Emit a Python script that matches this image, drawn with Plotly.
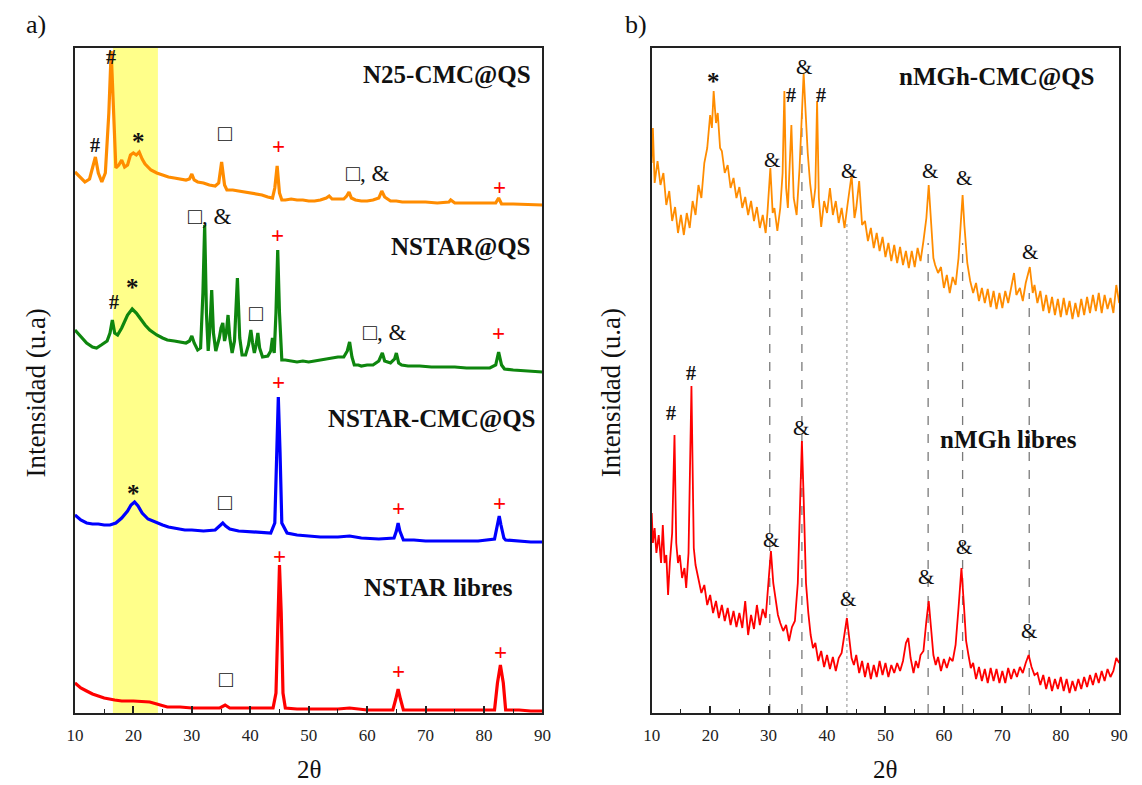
import plotly.graph_objects as go

# ---------------- DATA (2theta, intensity in a.u. incl. stacking offset) ----------------
# Panel a)
n25_cmc_qs = [(10.0,541),(11.0,535),(11.7,531),(12.5,534),(13.0,545),(13.5,556),(14.0,540),(14.6,531),(15.2,540),(15.8,600),(16.2,662),(16.6,600),(17.0,545),(17.5,548),(18.0,553),(18.5,546),(19.0,548),(19.5,558),(20.0,560),(20.5,558),(21.0,561),(21.5,554),(22.0,549),(23.0,543),(24.0,540),(25.0,538),(26.0,536),(27.0,535),(28.0,534),(29.0,533),(29.6,534),(30.0,539),(30.4,533),(31.0,531),(32.0,530),(33.0,528),(34.0,527),(34.6,530),(35.1,551),(35.6,528),(36.0,523),(37.0,523),(38.0,522),(39.0,521),(40.0,520),(41.0,519),(42.0,518),(43.0,516),(43.8,515),(44.2,525),(44.6,547),(45.0,520),(45.4,513),(46.0,513),(47.0,514),(48.0,513),(49.0,513),(50.0,512),(51.0,512),(52.0,513),(53.0,515),(53.5,517),(54.0,514),(55.0,514),(56.0,514),(56.5,517),(56.9,521),(57.3,515),(58.0,513),(59.0,512),(60.0,512),(61.0,513),(62.0,515),(62.5,522),(63.0,516),(63.5,514),(64.0,512),(65.0,512),(66.0,511),(68.0,511),(70.0,511),(72.0,510),(74.0,511),(74.3,513),(75.0,510),(78.0,510),(80.0,510),(82.0,510),(82.5,515),(83.0,509),(85.0,509),(88.0,508),(90.0,508)]

nstar_qs = [(10.0,383),(11.0,376),(12.0,370),(13.0,366),(13.7,365),(14.5,368),(15.5,372),(16.0,380),(16.4,393),(16.8,380),(17.3,378),(18.0,385),(18.5,392),(19.0,398),(19.8,404),(20.5,400),(21.0,396),(22.0,388),(22.8,383),(24.0,378),(25.0,375),(25.8,373),(27.0,372),(28.0,371),(29.0,370),(29.6,372),(30.0,377),(30.4,370),(31.0,363),(31.5,365),(31.9,420),(32.2,488),(32.5,400),(32.8,362),(33.1,385),(33.4,423),(33.7,380),(34.1,362),(34.7,375),(35.0,385),(35.3,390),(35.6,372),(35.9,380),(36.2,398),(36.5,375),(36.9,360),(37.3,372),(37.8,435),(38.2,375),(38.6,358),(39.2,358),(39.7,368),(40.1,383),(40.4,370),(40.7,360),(41.0,368),(41.3,380),(41.6,365),(42.1,356),(43.0,357),(43.5,362),(43.8,375),(44.1,360),(44.4,400),(44.7,463),(45.0,400),(45.4,353),(46.0,353),(47.0,352),(48.0,351),(49.0,352),(50.0,351),(51.0,352),(52.0,353),(53.0,354),(54.0,355),(55.0,356),(56.0,356),(56.6,362),(57.0,371),(57.4,356),(57.8,348),(58.5,348),(59.0,347),(60.0,348),(61.0,348),(62.0,352),(62.6,360),(63.0,352),(64.0,350),(64.7,354),(65.0,360),(65.4,350),(65.9,348),(67.0,347),(69.0,347),(71.0,346),(73.0,346),(75.0,346),(77.0,345),(79.0,345),(81.0,345),(82.0,348),(82.5,361),(83.0,348),(83.5,344),(85.0,343),(87.0,342),(90.0,341)]

nstar_cmc_qs = [(10.0,198),(11.0,193),(12.0,190),(13.0,189),(14.0,189),(15.0,188),(16.0,188),(17.0,190),(18.0,195),(19.0,202),(19.6,208),(20.2,211),(20.8,207),(21.5,200),(22.5,194),(24.0,190),(25.0,188),(26.0,186),(27.0,185),(28.8,183),(30.0,183),(32.0,182),(34.0,183),(34.7,187),(35.3,190),(35.8,187),(36.5,184),(38.0,182),(40.0,181),(42.0,180),(43.5,180),(44.2,190),(44.5,260),(44.8,316),(45.1,260),(45.4,190),(46.3,180),(48.0,178),(50.0,177),(52.0,176),(55.0,176),(57.0,177),(59.0,175),(62.0,174),(64.6,175),(65.0,182),(65.3,190),(65.6,182),(66.2,173),(68.0,173),(70.0,172),(73.0,172),(76.0,172),(79.0,172),(81.8,174),(82.3,188),(82.6,197),(82.9,188),(83.4,175),(83.7,173),(86.0,172),(88.0,171),(90.0,171)]

nstar_libres = [(10.0,30),(11.0,25),(12.0,22),(13.0,19),(14.0,17),(15.0,15),(16.8,13),(18.0,12),(20.0,12),(22.8,11),(24.0,9),(25.8,6),(28.0,6),(30.0,5),(32.0,5),(34.8,5),(35.7,8),(36.5,5),(38.0,5),(40.0,5),(42.0,5),(43.9,5),(44.4,20),(44.7,100),(45.0,148),(45.3,100),(45.6,20),(46.0,5),(48.0,4),(50.0,4),(52.0,4),(55.0,4),(57.0,5),(60.0,3),(62.0,3),(64.4,3),(64.9,14),(65.3,24),(65.7,14),(66.2,3),(68.0,3),(70.0,3),(72.0,3),(75.0,3),(78.0,3),(80.0,3),(81.8,3),(82.3,30),(82.8,48),(83.3,30),(83.7,3),(86.0,3),(88.0,2),(90.0,2)]

# Panel b)
nmgh_cmc_qs = [(10.0,550),(10.2,585),(10.5,530),(11.0,552),(11.5,528),(12.0,540),(12.5,508),(13.0,522),(13.5,492),(14.0,506),(14.5,480),(15.0,498),(15.5,478),(16.0,500),(16.5,485),(17.0,512),(17.5,498),(18.0,528),(18.5,515),(19.0,550),(19.5,565),(20.0,598),(20.3,585),(20.6,622),(21.0,590),(21.3,600),(21.7,565),(22.0,562),(22.5,540),(23.0,548),(23.5,525),(24.0,535),(24.5,515),(25.0,526),(25.5,505),(26.0,516),(26.5,498),(27.0,512),(27.5,492),(28.0,506),(28.5,485),(29.0,498),(29.5,480),(29.8,500),(30.3,545),(30.7,500),(31.0,505),(31.5,482),(32.0,505),(32.4,540),(32.7,622),(33.0,525),(33.3,505),(33.9,588),(34.3,515),(34.8,498),(35.3,545),(35.7,605),(36.0,640),(36.3,605),(36.7,560),(37.1,530),(37.6,505),(38.0,525),(38.3,612),(38.6,515),(39.0,486),(39.5,512),(40.0,500),(40.5,525),(41.0,498),(41.5,512),(42.0,490),(42.5,505),(43.0,485),(43.5,508),(44.2,538),(44.7,495),(45.0,505),(45.5,532),(46.0,488),(46.5,492),(47.0,472),(47.5,485),(48.0,465),(48.5,480),(49.0,462),(49.5,476),(50.0,456),(50.5,470),(51.0,452),(51.5,468),(52.0,450),(52.5,466),(53.0,448),(53.5,462),(54.0,445),(54.5,462),(55.0,446),(55.5,465),(56.0,452),(56.5,472),(57.0,495),(57.4,528),(57.8,490),(58.2,455),(58.5,448),(59.0,440),(59.5,446),(60.0,425),(60.5,438),(61.0,420),(61.5,436),(62.0,428),(62.5,455),(63.0,500),(63.2,518),(63.5,488),(64.0,450),(64.5,432),(65.0,420),(65.5,430),(66.0,412),(66.5,425),(67.0,410),(67.5,424),(68.0,406),(68.5,422),(69.0,404),(69.5,420),(70.0,405),(70.5,422),(71.0,410),(71.5,425),(72.0,440),(72.4,418),(73.0,425),(73.5,412),(74.0,430),(74.7,446),(75.2,420),(75.5,428),(76.0,410),(76.5,422),(77.0,402),(77.5,418),(78.0,400),(78.5,416),(79.0,398),(79.5,414),(80.0,396),(80.5,415),(81.0,398),(81.5,412),(82.0,394),(82.5,410),(83.0,396),(83.5,414),(84.0,398),(84.5,416),(85.0,400),(85.5,418),(86.0,402),(86.5,420),(87.0,400),(87.5,418),(88.0,404),(88.5,415),(89.0,400),(89.5,428),(90.0,410)]

nmgh_libres = [(10.0,200),(10.2,170),(10.5,185),(10.8,160),(11.2,178),(11.6,150),(11.9,188),(12.2,150),(12.5,158),(12.8,118),(13.1,150),(13.5,180),(13.9,278),(14.2,170),(14.5,150),(14.8,158),(15.2,135),(15.6,145),(15.9,125),(16.3,160),(16.8,327),(17.2,165),(17.5,148),(18.0,135),(18.5,120),(19.0,128),(19.5,108),(20.0,118),(20.5,100),(21.0,112),(21.5,95),(22.0,108),(22.5,92),(23.0,105),(23.5,88),(24.0,102),(24.5,86),(25.0,100),(25.5,85),(26.0,112),(26.5,78),(27.0,98),(27.5,84),(28.0,108),(28.5,88),(29.0,104),(29.5,95),(29.9,125),(30.4,162),(30.8,130),(31.2,112),(31.6,98),(32.0,90),(32.5,82),(33.0,88),(33.5,72),(34.0,86),(34.5,92),(35.0,130),(35.4,220),(35.7,272),(36.0,215),(36.4,130),(36.8,100),(37.2,78),(37.6,65),(38.0,70),(38.5,52),(39.0,62),(39.5,46),(40.0,58),(40.5,44),(41.0,56),(41.5,42),(42.0,55),(42.5,60),(43.0,80),(43.4,95),(43.8,75),(44.2,55),(44.6,48),(45.0,58),(45.5,40),(46.0,52),(46.5,36),(47.0,50),(47.5,34),(48.0,48),(48.5,36),(49.0,52),(49.5,38),(50.0,50),(50.5,36),(51.0,48),(51.5,40),(52.0,50),(52.5,42),(53.0,52),(53.5,70),(53.9,75),(54.3,55),(54.8,40),(55.2,52),(55.6,45),(56.0,58),(56.5,62),(57.0,92),(57.4,112),(57.8,85),(58.2,58),(58.6,48),(59.0,56),(59.5,42),(60.0,54),(60.5,45),(61.0,55),(61.5,52),(62.0,68),(62.5,105),(63.0,145),(63.4,110),(63.8,72),(64.2,58),(64.6,45),(65.0,50),(65.5,34),(66.0,46),(66.5,32),(67.0,44),(67.5,30),(68.0,45),(68.5,32),(69.0,44),(69.5,30),(70.0,42),(70.5,30),(71.0,45),(71.5,34),(72.0,44),(72.5,36),(73.0,46),(73.5,40),(74.0,50),(74.5,58),(75.0,46),(75.5,38),(76.0,40),(76.5,28),(77.0,38),(77.5,24),(78.0,36),(78.5,22),(79.0,34),(79.5,24),(80.0,36),(80.5,22),(81.0,34),(81.5,20),(82.0,32),(82.5,22),(83.0,34),(83.5,24),(84.0,36),(84.5,26),(85.0,38),(85.5,28),(86.0,40),(86.5,30),(87.0,42),(87.5,32),(88.0,44),(88.5,36),(89.0,42),(89.5,55),(90.0,50)]

# reference 2theta lines in panel b (position, top intensity)
ref_lines_b = [(30.2, 495), (35.7, 600), (57.3, 470), (63.2, 470), (74.6, 420)]
ref_dotted_b = [(43.4, 490)]

# amorphous band (panel a)
band_a = (16.5, 24.2)

tick_vals = [10, 20, 30, 40, 50, 60, 70, 80, 90]

# peak markers: (text, 2theta, height, kind)
marks_a = [
    ("#", 16.1, 656, "hash"), ("#", 13.4, 568, "hash"), ("*", 20.9, 572, "star"),
    ("□", 35.6, 580, "sq"), ("+", 44.8, 567, "plus"), ("□, &", 60.1, 540, "sq"),
    ("+", 82.6, 526, "plus"), ("□, &", 33.0, 497, "sq"), ("+", 44.7, 478, "plus"),
    ("#", 16.75, 411, "hash"), ("*", 19.8, 426, "star"), ("□", 40.9, 400, "sq"),
    ("□, &", 62.9, 381, "sq"), ("+", 82.5, 380, "plus"), ("+", 44.8, 331, "plus"),
    ("*", 20.1, 220, "star"), ("□", 35.7, 211, "sq"), ("+", 65.3, 205, "plus"),
    ("+", 82.6, 210, "plus"), ("+", 45.0, 157, "plus"), ("□", 35.9, 34, "sq"),
    ("+", 65.3, 42, "plus"), ("+", 82.9, 61, "plus"),
]
marks_b = [
    ("*", 20.5, 631, "star"), ("&", 36.0, 646, "amp"), ("#", 33.9, 618, "hash"),
    ("#", 39.0, 618, "hash"), ("&", 30.6, 553, "amp"), ("&", 43.8, 542, "amp"),
    ("&", 57.6, 542, "amp"), ("&", 63.4, 535, "amp"), ("&", 74.7, 461, "amp"),
    ("#", 13.3, 300, "hash"), ("#", 16.7, 340, "hash"), ("&", 35.6, 285, "amp"),
    ("&", 30.4, 173, "amp"), ("&", 43.6, 114, "amp"), ("&", 57.0, 136, "amp"),
    ("&", 63.4, 166, "amp"), ("&", 74.5, 82, "amp"),
]
# sample names: (text, right-edge 2theta, height)
names_a = [("N25-CMC@QS", 88.3, 638), ("NSTAR@QS", 88.3, 466),
           ("NSTAR-CMC@QS", 89.3, 294), ("NSTAR libres", 85.3, 126)]
names_b = [("nMGh-CMC@QS", 86.1, 636), ("nMGh libres", 83.2, 274)]

# ---------------- FIGURE ----------------
SERIF = "Liberation Serif, Times New Roman, serif"
W, H = 1142, 785
dom_a = [67 / W, 542 / W]
dom_b = [653 / W, 1128 / W]
dom_y = [(H - 713) / H, (H - 48) / H]
YMAX = 665

fig = go.Figure()

def add_curve(pts, color, width, xa, ya):
    fig.add_trace(go.Scatter(x=[p[0] for p in pts], y=[p[1] for p in pts], mode="lines",
                             line=dict(color=color, width=width), xaxis=xa, yaxis=ya,
                             hoverinfo="skip", showlegend=False))

add_curve(n25_cmc_qs, "#FF8C00", 3.2, "x", "y")
add_curve(nstar_qs, "#0E860E", 3.2, "x", "y")
add_curve(nstar_cmc_qs, "#0000FF", 3.2, "x", "y")
add_curve(nstar_libres, "#FF0000", 3.2, "x", "y")
add_curve(nmgh_cmc_qs, "#FF8C00", 1.8, "x2", "y2")
add_curve(nmgh_libres, "#FF0000", 1.8, "x2", "y2")

shapes = [dict(type="rect", xref="x", yref="y", x0=band_a[0], x1=band_a[1], y0=0, y1=YMAX,
               fillcolor="#FFFF8A", line=dict(width=0), layer="below")]
for xv, top in ref_lines_b:
    shapes.append(dict(type="line", xref="x2", yref="y2", x0=xv, x1=xv, y0=0, y1=top,
                       line=dict(color="#7A7A7A", width=1.3, dash="dash"), layer="below"))
for xv, top in ref_dotted_b:
    shapes.append(dict(type="line", xref="x2", yref="y2", x0=xv, x1=xv, y0=0, y1=top,
                       line=dict(color="#A0A0A0", width=1.2, dash="dot"), layer="below"))

annotations = []
styles = {
    "hash": dict(size=20, color="#111", bold=True),
    "star": dict(size=25, color="#111", bold=True),
    "sq": dict(size=23, color="#111", bold=False),
    "plus": dict(size=23, color="#FF0000", bold=True),
    "amp": dict(size=21, color="#111", bold=False),
}
for marks, xr, yr in ((marks_a, "x", "y"), (marks_b, "x2", "y2")):
    for txt, xv, yv, kind in marks:
        st = styles[kind]
        t = f"<b>{txt}</b>" if st["bold"] else txt
        annotations.append(dict(text=t, x=xv, y=yv, xref=xr, yref=yr, showarrow=False,
                                font=dict(family=SERIF, size=st["size"], color=st["color"]),
                                xanchor="center", yanchor="middle"))
for names, xr, yr in ((names_a, "x", "y"), (names_b, "x2", "y2")):
    for txt, xv, yv in names:
        annotations.append(dict(text=f"<b>{txt}</b>", x=xv, y=yv, xref=xr, yref=yr,
                                showarrow=False, xanchor="right", yanchor="middle",
                                font=dict(family=SERIF, size=25, color="#111")))

# panel letters, axis titles
for txt, px in (("a)", 27), ("b)", 637)):
    annotations.append(dict(text=txt, x=px / W, y=(H - 25) / H, xref="paper", yref="paper",
                            showarrow=False, xanchor="center", yanchor="middle",
                            font=dict(family=SERIF, size=26, color="#111")))
for dom in (dom_a, dom_b):
    annotations.append(dict(text="2θ", x=(dom[0] + dom[1]) / 2, y=(H - 769) / H,
                            xref="paper", yref="paper", showarrow=False,
                            xanchor="center", yanchor="middle",
                            font=dict(family=SERIF, size=25, color="#111")))
for px in (27, 612):
    annotations.append(dict(text="Intensidad (u.a)", x=px / W, y=(H - 393) / H,
                            xref="paper", yref="paper", showarrow=False, textangle=-90,
                            xanchor="center", yanchor="middle",
                            font=dict(family=SERIF, size=27, color="#111")))

xcommon = dict(range=[10, 90], tickvals=tick_vals, ticks="inside", ticklen=7, tickwidth=1.5,
               tickcolor="#222", showline=True, linecolor="#222", linewidth=1.5, mirror=True,
               showgrid=False, zeroline=False, ticklabelstandoff=6,
               tickfont=dict(family=SERIF, size=17, color="#222"),
               minor=dict(ticks="inside", ticklen=4, tickwidth=1.3, dtick=5, tick0=10,
                          tickcolor="#222", showgrid=False))
ycommon = dict(range=[0, YMAX], showticklabels=False, ticks="", showline=True,
               linecolor="#222", linewidth=1.5, mirror=True, showgrid=False,
               zeroline=False, domain=dom_y)

fig.update_layout(
    width=W, height=H, margin=dict(l=0, r=0, t=0, b=0),
    paper_bgcolor="white", plot_bgcolor="white",
    xaxis=dict(domain=dom_a, anchor="y", **xcommon),
    yaxis=dict(anchor="x", **ycommon),
    xaxis2=dict(domain=dom_b, anchor="y2", **xcommon),
    yaxis2=dict(anchor="x2", **ycommon),
    shapes=shapes, annotations=annotations, showlegend=False,
)

# remove the default 8px page margin so the figure sits at the window origin
fig.write_html("out.html", config={"displayModeBar": False},
               post_script="document.body.style.margin='0';document.body.style.overflow='hidden';")
